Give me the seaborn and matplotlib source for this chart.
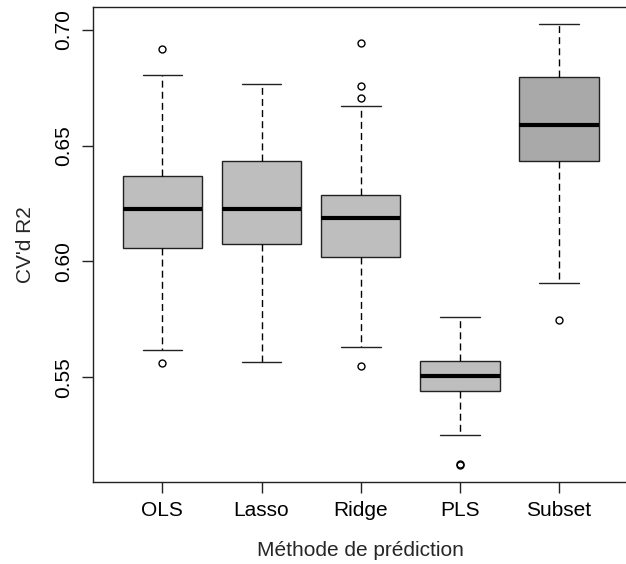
import numpy as np
import pandas as pd
import seaborn as sns
import matplotlib.pyplot as plt

sns.set_style("white")
plt.rcParams["font.family"] = ["Liberation Sans", "DejaVu Sans"]

# Values (CV'd R2 per prediction method)
methods = ["OLS", "Lasso", "Ridge", "PLS", "Subset"]
q1 = [0.6057, 0.6074, 0.6020, 0.5440, 0.6435]
median = [0.6226, 0.6226, 0.6186, 0.5505, 0.6588]
q3 = [0.6370, 0.6434, 0.6287, 0.5571, 0.6796]
whisker_lo = [0.5617, 0.5565, 0.5630, 0.5251, 0.5908]
whisker_hi = [0.6807, 0.6767, 0.6672, 0.5760, 0.7026]
outliers_lo = [[0.5560], [], [0.5547], [0.5122, 0.5126], [0.5748]]
outliers_hi = [[0.6919], [], [0.6707, 0.6759, 0.6944], [], []]
fills = ["#bebebe", "#bebebe", "#bebebe", "#bebebe", "#a9a9a9"]

# Build 17 observations per method so the quartiles land exactly on the read values
rows = []
for i, m in enumerate(methods):
    low = outliers_lo[i] + [whisker_lo[i]]
    low = low + [q1[i]] * (4 - len(low))
    high = [whisker_hi[i]] + outliers_hi[i]
    high = [q3[i]] * (4 - len(high)) + high
    vals = low + [q1[i]] + [median[i]] * 3 + [median[i]] + [median[i]] * 3 + [q3[i]] + high
    for v in vals:
        rows.append({"Method": m, "R2": v})
df = pd.DataFrame(rows)

fig = plt.figure(figsize=(6.26, 5.64), dpi=100)
ax = fig.add_axes([93 / 626, 1 - 482 / 564, 535.4 / 626, 475 / 564])

sns.boxplot(data=df, x="Method", y="R2", hue="Method", order=methods,
            palette=fills, legend=False, width=0.8, whis=1.5,
            linecolor="#222222", linewidth=1.0, fliersize=5,
            flierprops=dict(marker="o", markerfacecolor="none",
                            markeredgecolor="black", markeredgewidth=1.0),
            medianprops=dict(color="black", linewidth=3.0),
            whiskerprops=dict(linestyle=(0, (5, 3)), color="black"),
            capprops=dict(color="#222222"),
            ax=ax)

ax.set_xlim(-0.7, 4.7)
ax.set_ylim(0.5047, 0.7099)
ax.set_yticks([0.55, 0.60, 0.65, 0.70])
ax.set_yticklabels(["0.55", "0.60", "0.65", "0.70"], rotation=90, va="center")
ax.tick_params(axis="both", direction="out", length=8, width=1.0, color="#222222",
               labelsize=15, labelcolor="black", pad=6, left=True, bottom=True)
ax.set_xlabel("Méthode de prédiction", fontsize=15, labelpad=15)
ax.set_ylabel("CV'd R2", fontsize=15, labelpad=14)
for s in ax.spines.values():
    s.set_color("#222222")
    s.set_linewidth(1.0)

fig.savefig("out.png", dpi=100)
plt.close(fig)
